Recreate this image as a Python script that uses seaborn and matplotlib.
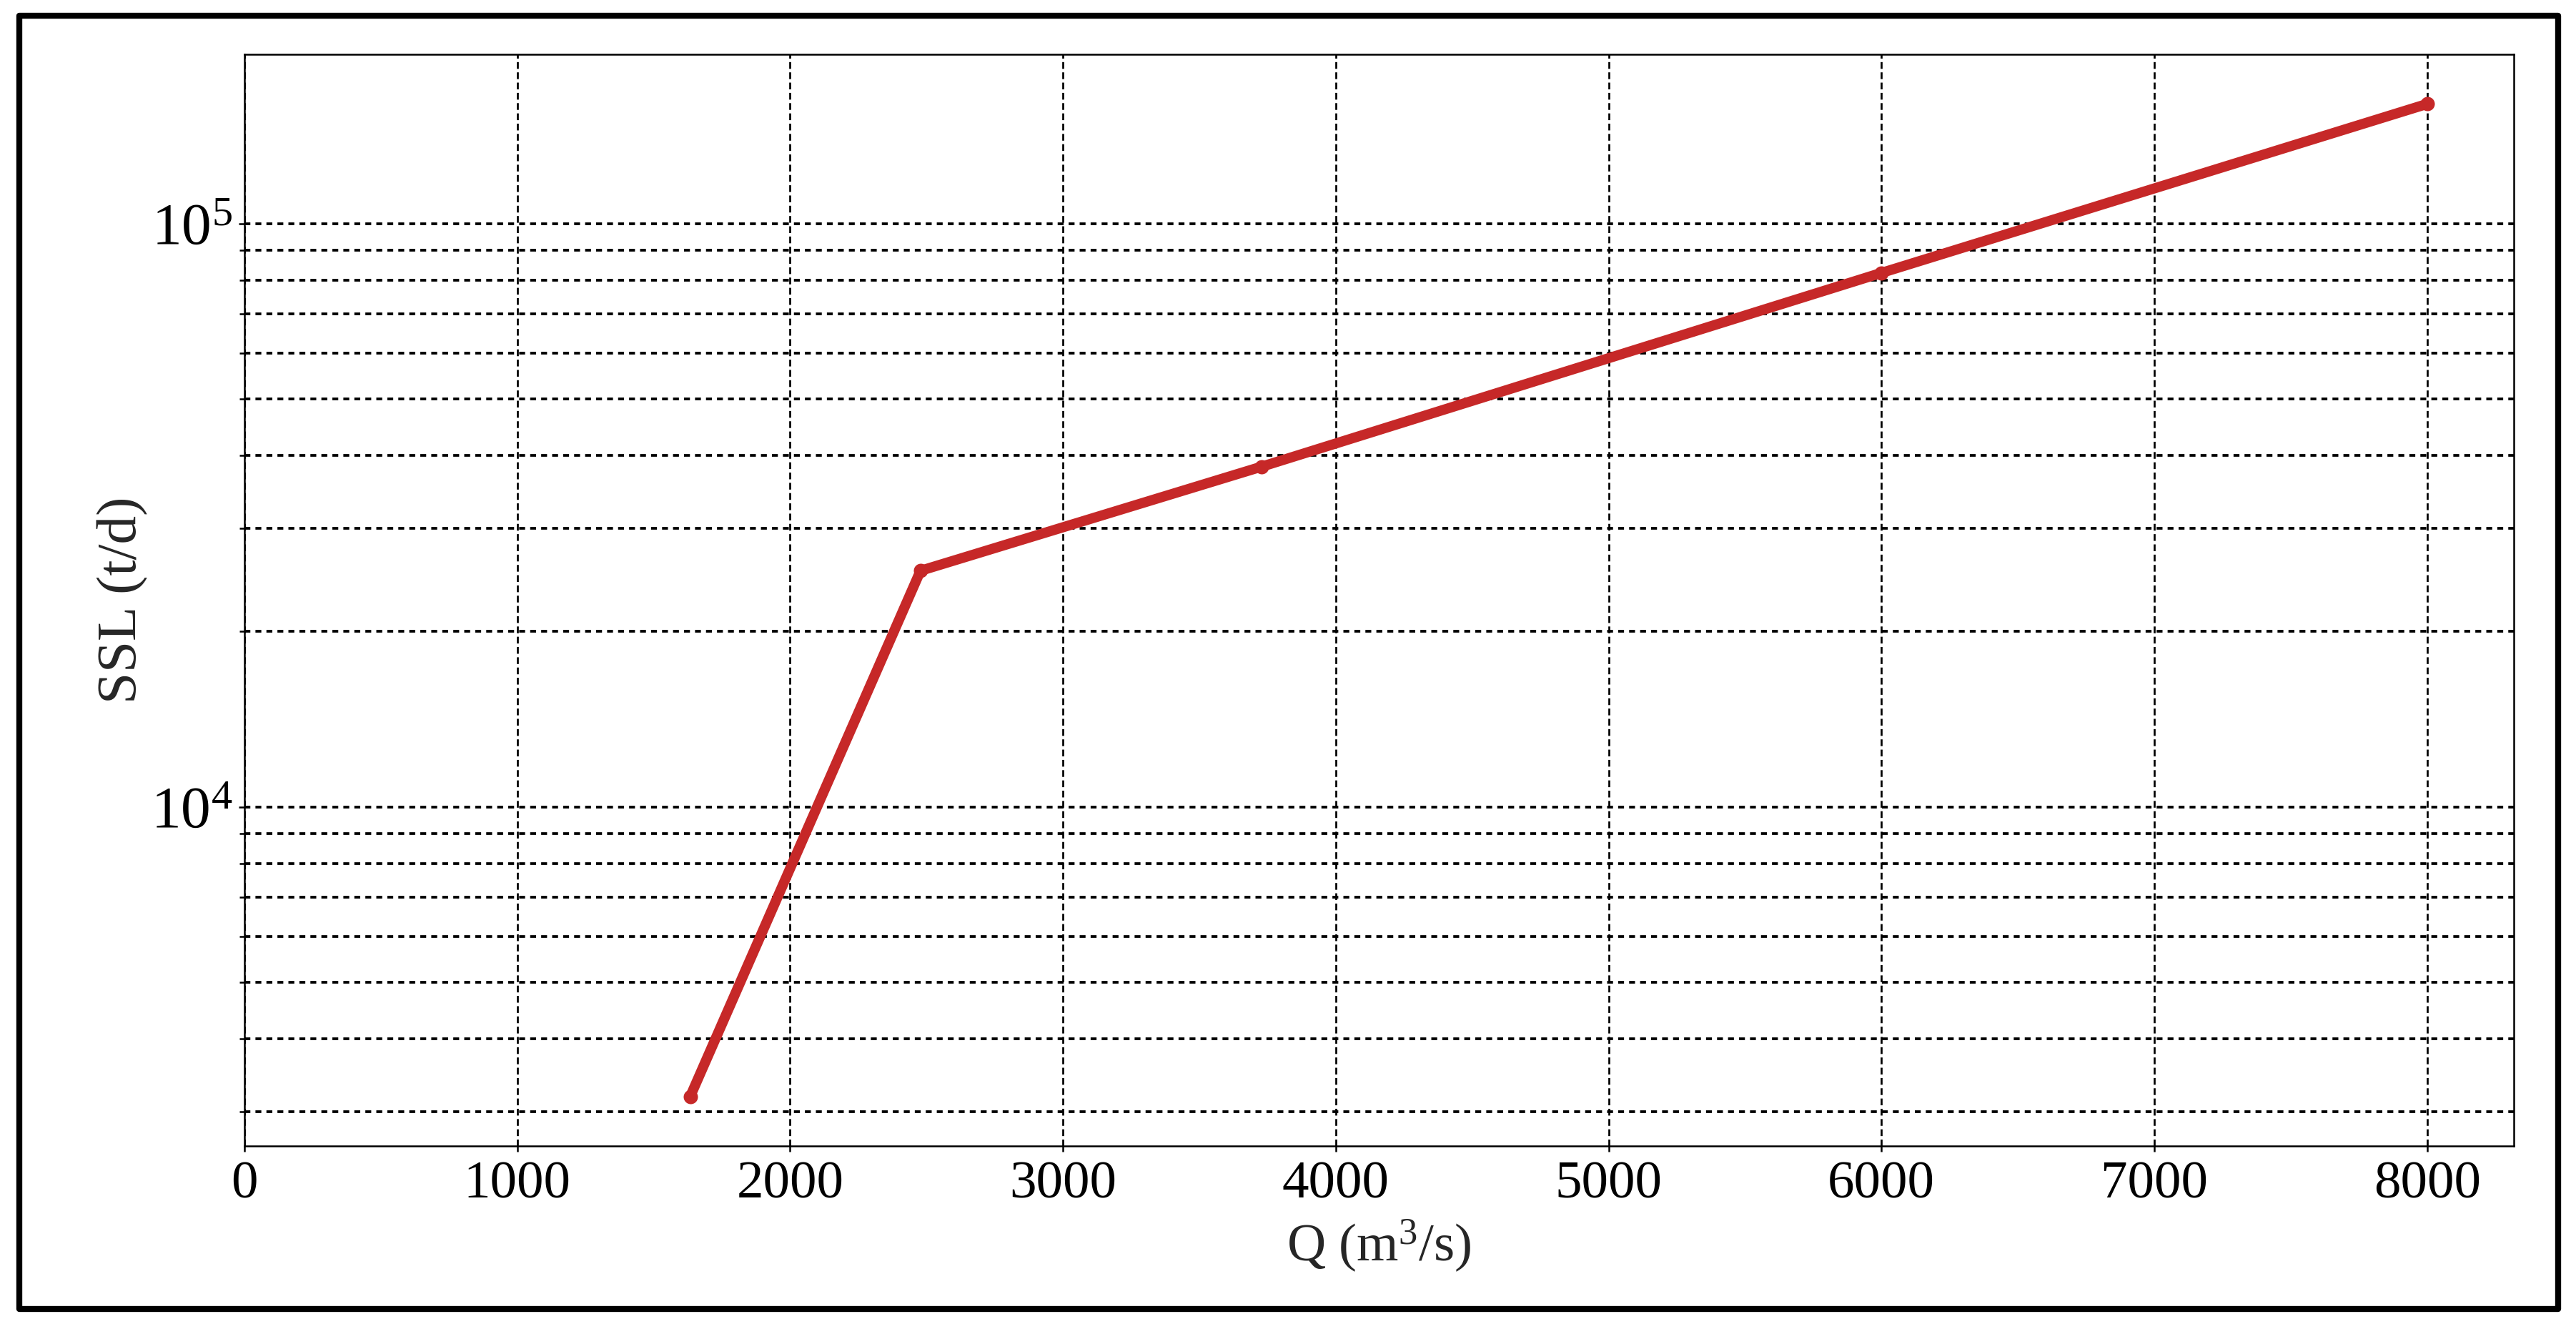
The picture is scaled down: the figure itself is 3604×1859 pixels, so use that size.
import matplotlib
matplotlib.use("Agg")
import matplotlib.pyplot as plt
import seaborn as sns
import pandas as pd
from matplotlib.patches import Rectangle
from matplotlib.ticker import LogLocator, NullFormatter

# ---- data ----
Q = [1634, 2478, 3728, 6000, 8000]          # discharge, m3/s
SSL = [3190, 25400, 38300, 82300, 160300]   # suspended sediment load, t/d

df = pd.DataFrame({"Q": Q, "SSL": SSL})

sns.set_theme(style="ticks")
plt.rcParams["font.family"] = ["Liberation Serif", "DejaVu Serif"]
plt.rcParams["mathtext.fontset"] = "custom"
plt.rcParams["mathtext.rm"] = "Liberation Serif"
plt.rcParams["mathtext.it"] = "Liberation Serif:italic"
plt.rcParams["mathtext.bf"] = "Liberation Serif:bold"

DPI = 300
fig = plt.figure(figsize=(3604 / DPI, 1859 / DPI), dpi=DPI)
fig.patch.set_facecolor("white")
ax = fig.add_axes([0.0949, 0.1377, 0.9759 - 0.0949, 0.9591 - 0.1377])

ax.set_yscale("log")
sns.lineplot(data=df, x="Q", y="SSL", ax=ax, color="#c62828", linewidth=3.4,
             marker="o", markersize=4.8, markeredgewidth=0, sort=True,
             zorder=5)

ax.margins(x=0.05, y=0.05)
ax.set_xlim(left=0)

ax.yaxis.set_minor_locator(LogLocator(base=10, subs=range(2, 10), numticks=50))
ax.yaxis.set_minor_formatter(NullFormatter())

# grids
ax.grid(False)
ax.grid(which="both", axis="y", color="black", linestyle=(0, (2.2, 1.9)),
        linewidth=0.9)
ax.grid(which="major", axis="x", color="black", linestyle=(0, (3.5, 1.8)),
        linewidth=0.65)
ax.set_axisbelow(True)

for sp in ax.spines.values():
    sp.set_linewidth(0.6)
    sp.set_color("black")
    sp.set_visible(True)

ax.tick_params(which="major", direction="out", length=2.0, width=0.6,
               colors="black", pad=3)
ax.tick_params(axis="x", which="major", labelsize=18)
ax.tick_params(axis="y", which="major", labelsize=20, pad=2)
ax.tick_params(which="minor", direction="out", length=1.8, width=0.6,
               colors="black")
ax.tick_params(axis="x", which="minor", bottom=False)

ax.set_xlabel("Q (m$^3$/s)", fontsize=18, labelpad=3)
ax.set_ylabel("SSL (t/d)", fontsize=19, labelpad=1)

# outer frame around the figure
frame = Rectangle((0.00749, 0.01506), 0.9856, 0.9731, transform=fig.transFigure,
                  fill=False, edgecolor="black", linewidth=2.0,
                  joinstyle="round", zorder=10)
fig.patches.append(frame)

fig.savefig("out.png", dpi=DPI, facecolor="white")
